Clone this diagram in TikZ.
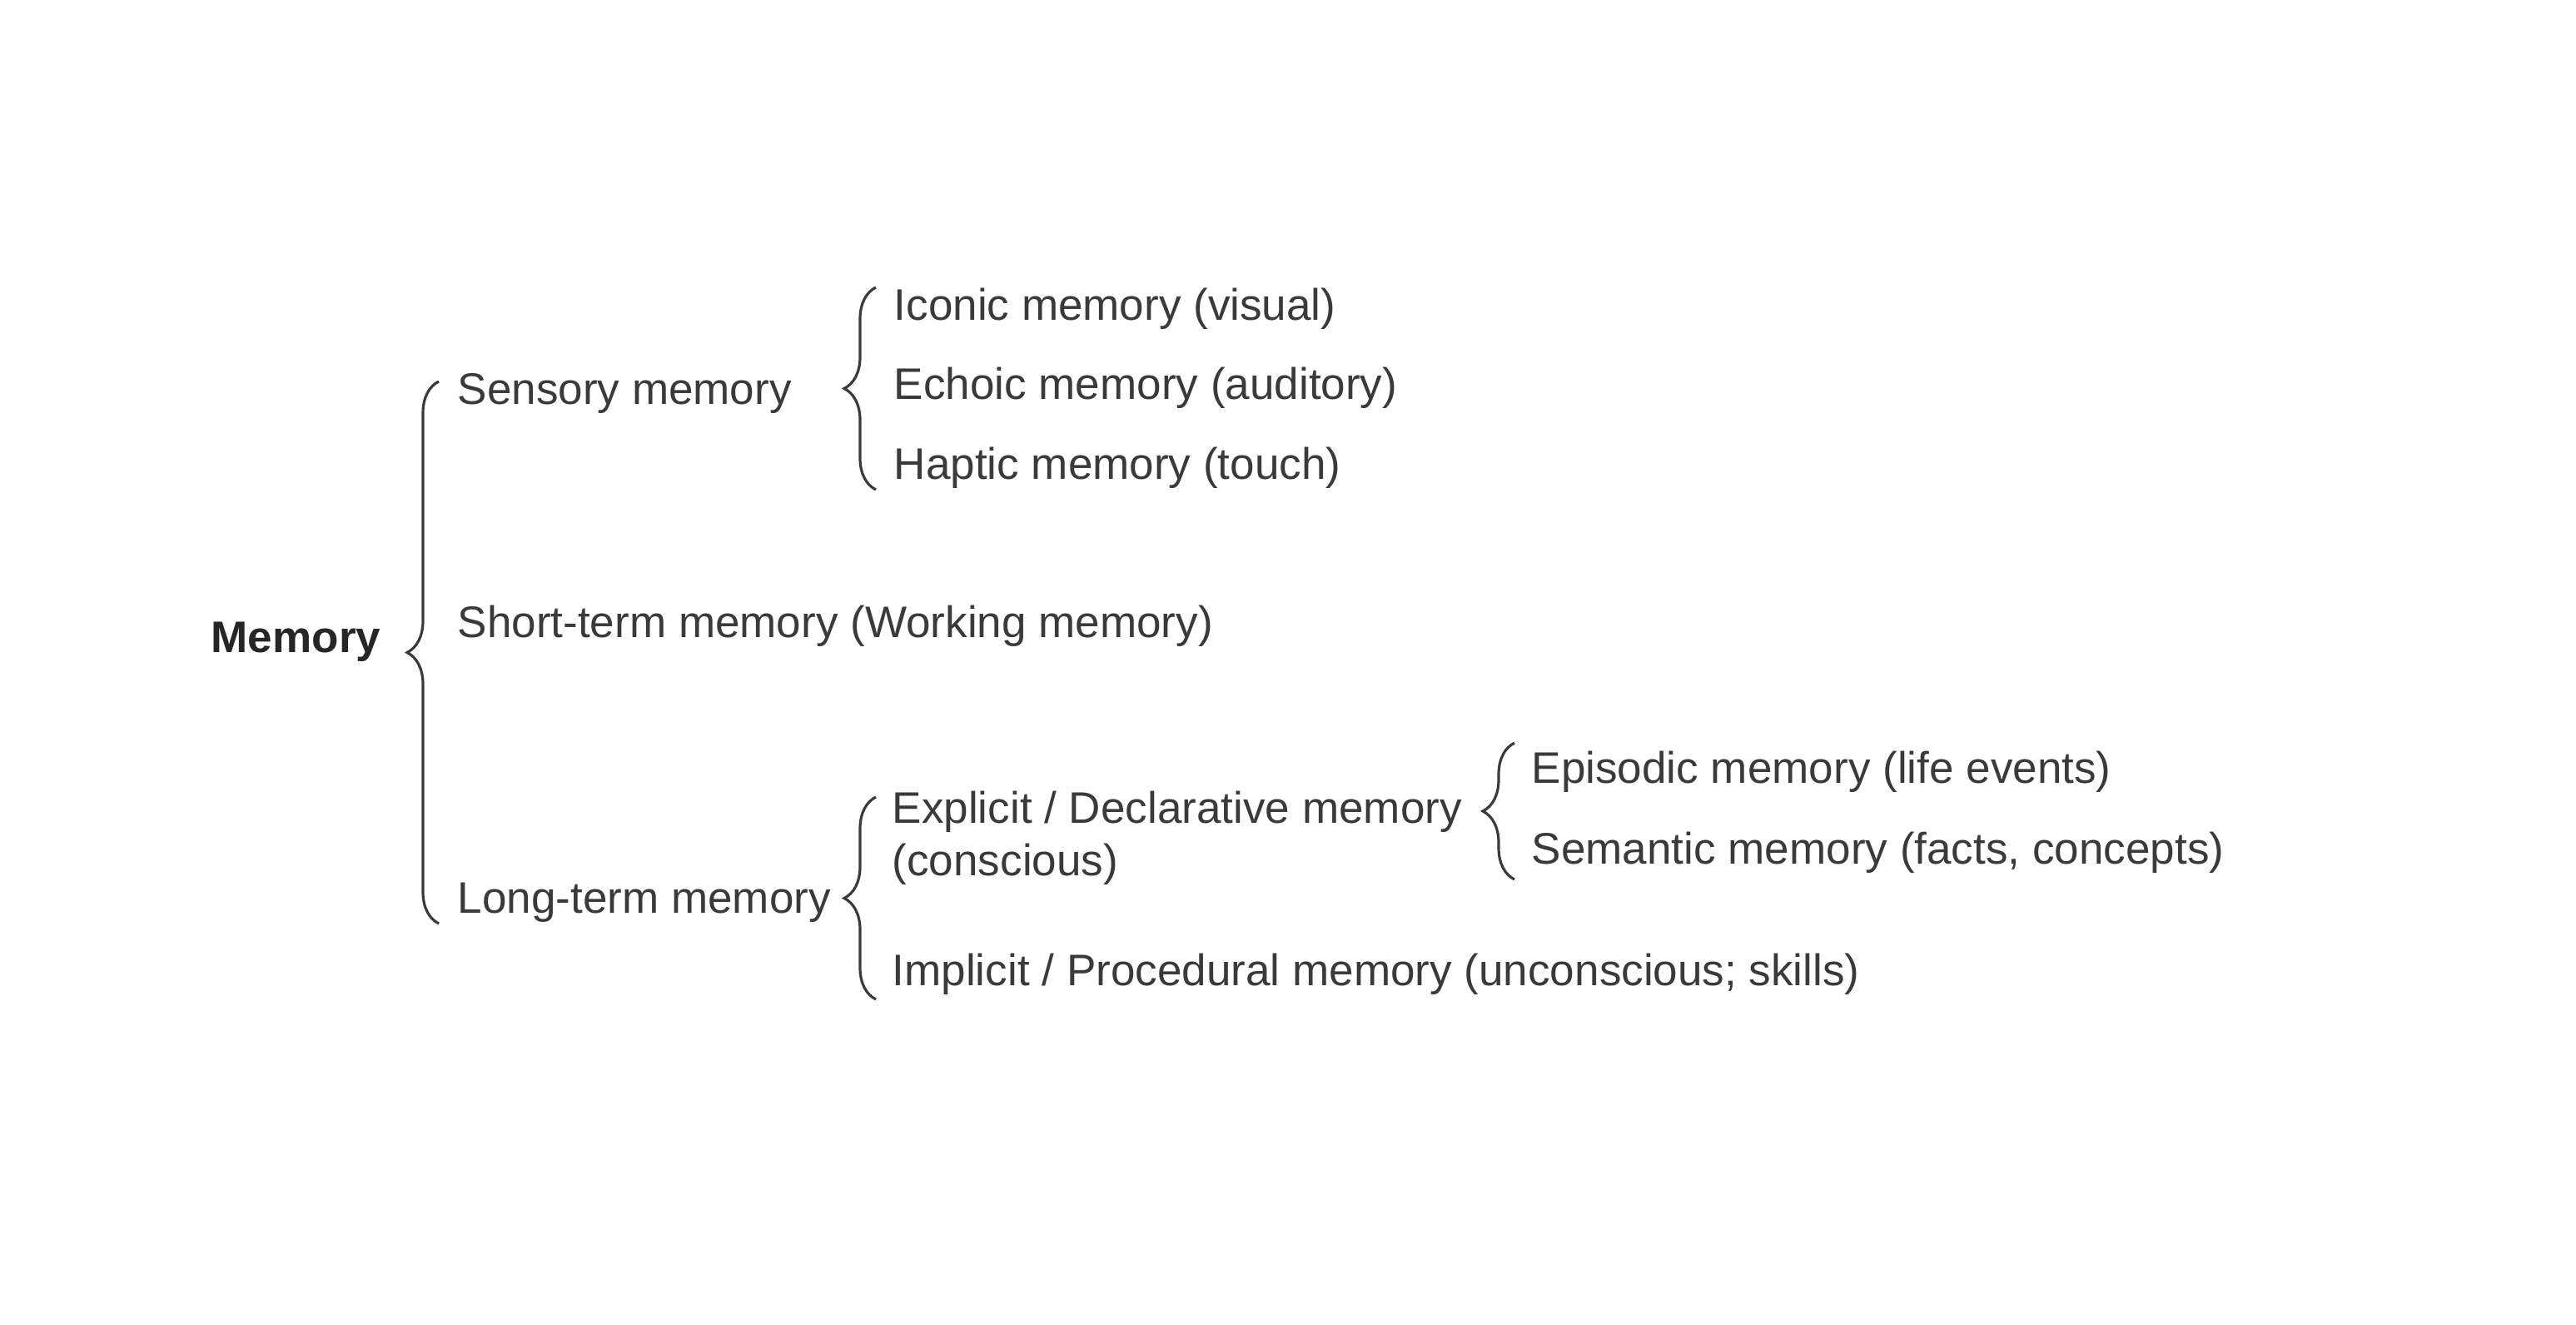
\documentclass[tikz,border=0pt]{standalone}
\usepackage{fontspec}
\setmainfont{Liberation Sans}
\usepackage{xcolor}
\usetikzlibrary{decorations.pathreplacing}
\definecolor{inkgray}{HTML}{3A3A3A}

\begin{document}
\begin{tikzpicture}[every node/.style={inner sep=0pt, anchor=base west, text=inkgray, font=\fontsize{15.1}{17.9}\selectfont},
    bracket/.style={decorate, decoration={brace, amplitude=0.38cm}, draw=inkgray, line width=0.9pt}]
      \useasboundingbox (0,0) rectangle (30.94,-15.90);
      \node[font=\bfseries\fontsize{15.1}{17.9}\selectfont, text=black!85] (mem) at (2.53,-7.83) {Memory};
      \node (sens) at (5.49,-4.85) {Sensory memory};
      \node (stm) at (5.49,-7.65) {Short-term memory (Working memory)};
      \node (ltm) at (5.49,-10.96) {Long-term memory};
      \node (icon) at (10.73,-3.84) {Iconic memory (visual)};
      \node (echo) at (10.73,-4.79) {Echoic memory (auditory)};
      \node (hapt) at (10.73,-5.75) {Haptic memory (touch)};
      \node[align=left] (expl) at (10.71,-10.51) {Explicit / Declarative memory\\(conscious)};
      \node (impl) at (10.71,-11.83) {Implicit / Procedural memory (unconscious; skills)};
      \node (epis) at (18.39,-9.40) {Episodic memory (life events)};
      \node (sema) at (18.39,-10.37) {Semantic memory (facts, concepts)};
      \coordinate (memtop) at (5.27,-4.58);
      \coordinate (membot) at (5.27,-11.09);
      \coordinate (senstop) at (10.52,-3.45);
      \coordinate (sensbot) at (10.52,-5.88);
      \coordinate (ltmtop) at (10.52,-9.57);
      \coordinate (ltmbot) at (10.52,-12.00);
      \coordinate (expltop) at (18.19,-8.92);
      \coordinate (explbot) at (18.19,-10.56);
      \draw[bracket] (membot) -- (memtop);
      \draw[bracket] (sensbot) -- (senstop);
      \draw[bracket] (ltmbot) -- (ltmtop);
      \draw[bracket] (explbot) -- (expltop);
    \end{tikzpicture}
\end{document}
